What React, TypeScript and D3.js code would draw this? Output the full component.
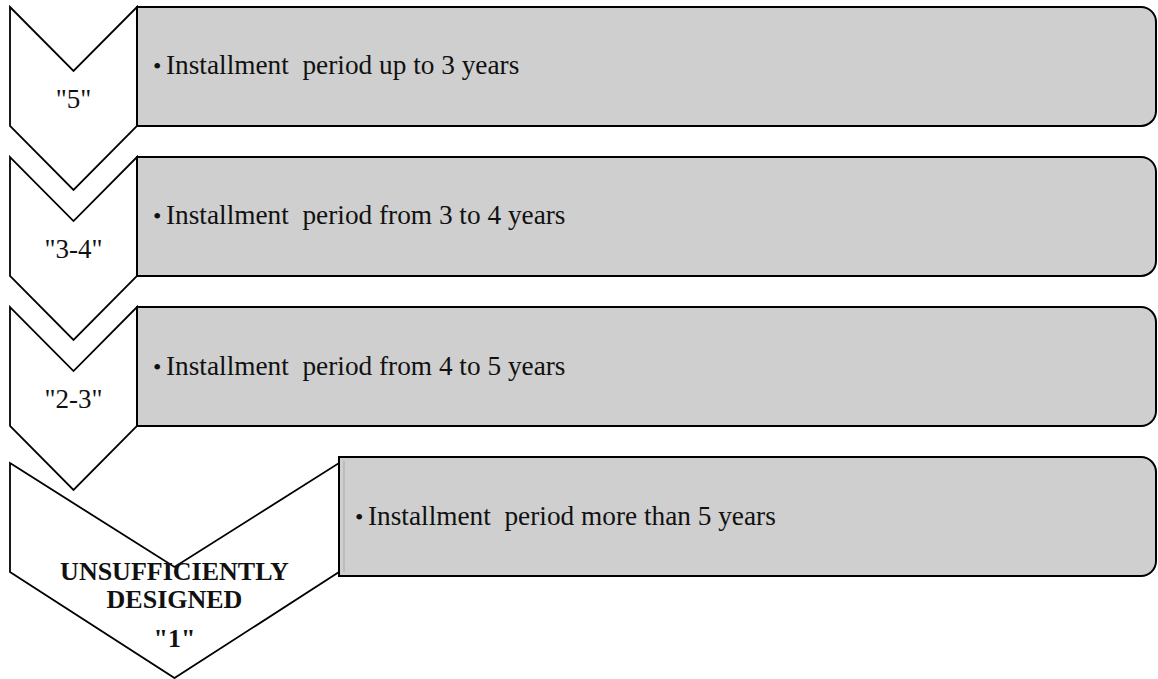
import * as d3 from 'd3';

const grades = ['"5"', '"3-4"', '"2-3"', '"1"'];
const gradeNotes = ['', '', '', 'UNSUFFICIENTLY DESIGNED'];
const periods = [
  'Installment  period up to 3 years',
  'Installment  period from 3 to 4 years',
  'Installment  period from 4 to 5 years',
  'Installment  period more than 5 years',
];

const W = 1158;
const H = 679;
const font = "'Liberation Serif', 'Times New Roman', Times, serif";

export default function App() {
  const y = d3
    .scaleBand<number>()
    .domain(d3.range(grades.length))
    .range([7, 576])
    .paddingInner(0.207)
    .paddingOuter(0);
  const bw = y.bandwidth();

  const rectPath = (x0: number, y0: number, x1: number, y1: number, r: number) => {
    const p = d3.path();
    p.moveTo(x0, y0);
    p.lineTo(x1 - r, y0);
    p.arcTo(x1, y0, x1, y0 + r, r);
    p.lineTo(x1, y1 - r);
    p.arcTo(x1, y1, x1 - r, y1, r);
    p.lineTo(x0, y1);
    p.closePath();
    return p.toString();
  };

  const chevron = (x0: number, x1: number, top: number, notch: number, side: number, tip: number) => {
    const mx = (x0 + x1) / 2;
    return d3.line()([
      [x0, top],
      [mx, notch],
      [x1, top],
      [x1, side],
      [mx, tip],
      [x0, side],
    ]) + 'Z';
  };

  return (
    <svg width={W} height={H} style={{ position: 'absolute', left: 0, top: 0, background: '#fff' }}>
      {grades.map((g, i) => {
        const t = y(i)!;
        const last = i === grades.length - 1;
        const cx0 = 10;
        const cx1 = last ? 339 : 137;
        const mx = (cx0 + cx1) / 2;
        const ctop = last ? t + 6 : t;
        const depth = last ? 104 : 64;
        const side = last ? t + 115 : t + bw;
        const d = chevron(cx0, cx1, ctop, ctop + depth, side, side + (last ? 106 : 64));
        const rx0 = last ? 339 : 137;
        const rx1 = 1156;
        const cy = t + bw / 2;
        return (
          <g key={i}>
            <path d={d} fill="#fff" stroke="#000" strokeWidth={1.8} strokeLinejoin="miter" />
            {last ? (
              <text style={{ fontFamily: font }} fontWeight="bold" fontSize={26} textAnchor="middle" fill="#111">
                {gradeNotes[i].split(' ').map((w, k) => (
                  <tspan key={k} x={mx} y={580 + k * 28}>
                    {w}
                  </tspan>
                ))}
                <tspan x={mx} y={647}>
                  {g}
                </tspan>
              </text>
            ) : (
              <text
                x={mx}
                y={t + 101}
                style={{ fontFamily: font }}
                fontSize={27}
                textAnchor="middle"
                fill="#111"
              >
                {g}
              </text>
            )}
            <path
              d={rectPath(rx0, t, rx1, t + bw, 15)}
              fill="#cfcfcf"
              stroke="#000"
              strokeWidth={2}
            />
            {last && <line x1={rx0 + 5} x2={rx0 + 5} y1={t + 4} y2={t + bw - 4} stroke="#bcbcbc" strokeWidth={2} />}
            <text x={rx0 + 16} y={cy + 8} style={{ fontFamily: font }} fontSize={24} fill="#111">
              •
            </text>
            <text x={rx0 + 29} y={cy + 8} style={{ fontFamily: font, whiteSpace: 'pre' }} fontSize={27.3} fill="#111">
              {periods[i]}
            </text>
          </g>
        );
      })}
    </svg>
  );
}
